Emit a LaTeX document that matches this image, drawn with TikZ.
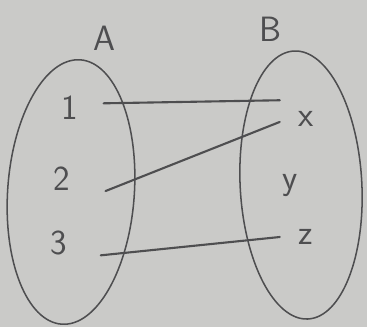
\documentclass[tikz,border=0pt]{standalone}
\usepackage{tikz}
\usetikzlibrary{positioning}
\usetikzlibrary{shapes.geometric}
\usepackage{xcolor}
\definecolor{paper}{RGB}{202,202,200}
\definecolor{ink}{RGB}{78,78,80}

\begin{document}
\begin{tikzpicture}[x=0.03cm, y=0.03cm,
    setbox/.style={draw=ink, ellipse, line width=1.3pt, inner sep=0pt},
    elem/.style={text=ink, font=\sffamily\fontsize{30}{32}\selectfont, minimum width=2cm, minimum height=0.6cm, inner sep=0pt},
    link/.style={draw=ink, line width=1.8pt, line cap=round}]
    % Paper
    \fill[paper] (0,0) rectangle (367,327);
    \useasboundingbox (0,0) rectangle (367,327);

    % Set A
    \node[setbox, minimum width=3.8cm, minimum height=7.95cm, rotate=-4] (setA) at (71,135) {};
    \node[elem, minimum width=0pt] (labA) at (104,289) {A};

    % Set B
    \node[setbox, minimum width=3.65cm, minimum height=8.05cm, rotate=3] (setB) at (301,142) {};
    \node[elem, minimum width=0pt] (labB) at (270,298) {B};

    % Elements of A
    \node[elem] (n1) at (70,219) {1};
    \node[elem] (n2) at (62,148) {2};
    \node[elem] (n3) at (59,84) {3};

    % Elements of B
    \node[elem, minimum width=1.56cm] (nx) at (306,208) {x};
    \node[elem, minimum width=1.56cm] (ny) at (290,141) {y};
    \node[elem, minimum width=1.56cm] (nz) at (306,90) {z};

    % Mapping
    \draw[link] ([yshift=4pt]n1.east) -- ([yshift=16pt]nx.west);
    \draw[link] ([xshift=8.5pt]n2.south east) -- ([yshift=-2.5pt]nx.west);
    \draw[link] ([xshift=7pt]n3.south east) -- (nz.west);
\end{tikzpicture}
\end{document}
